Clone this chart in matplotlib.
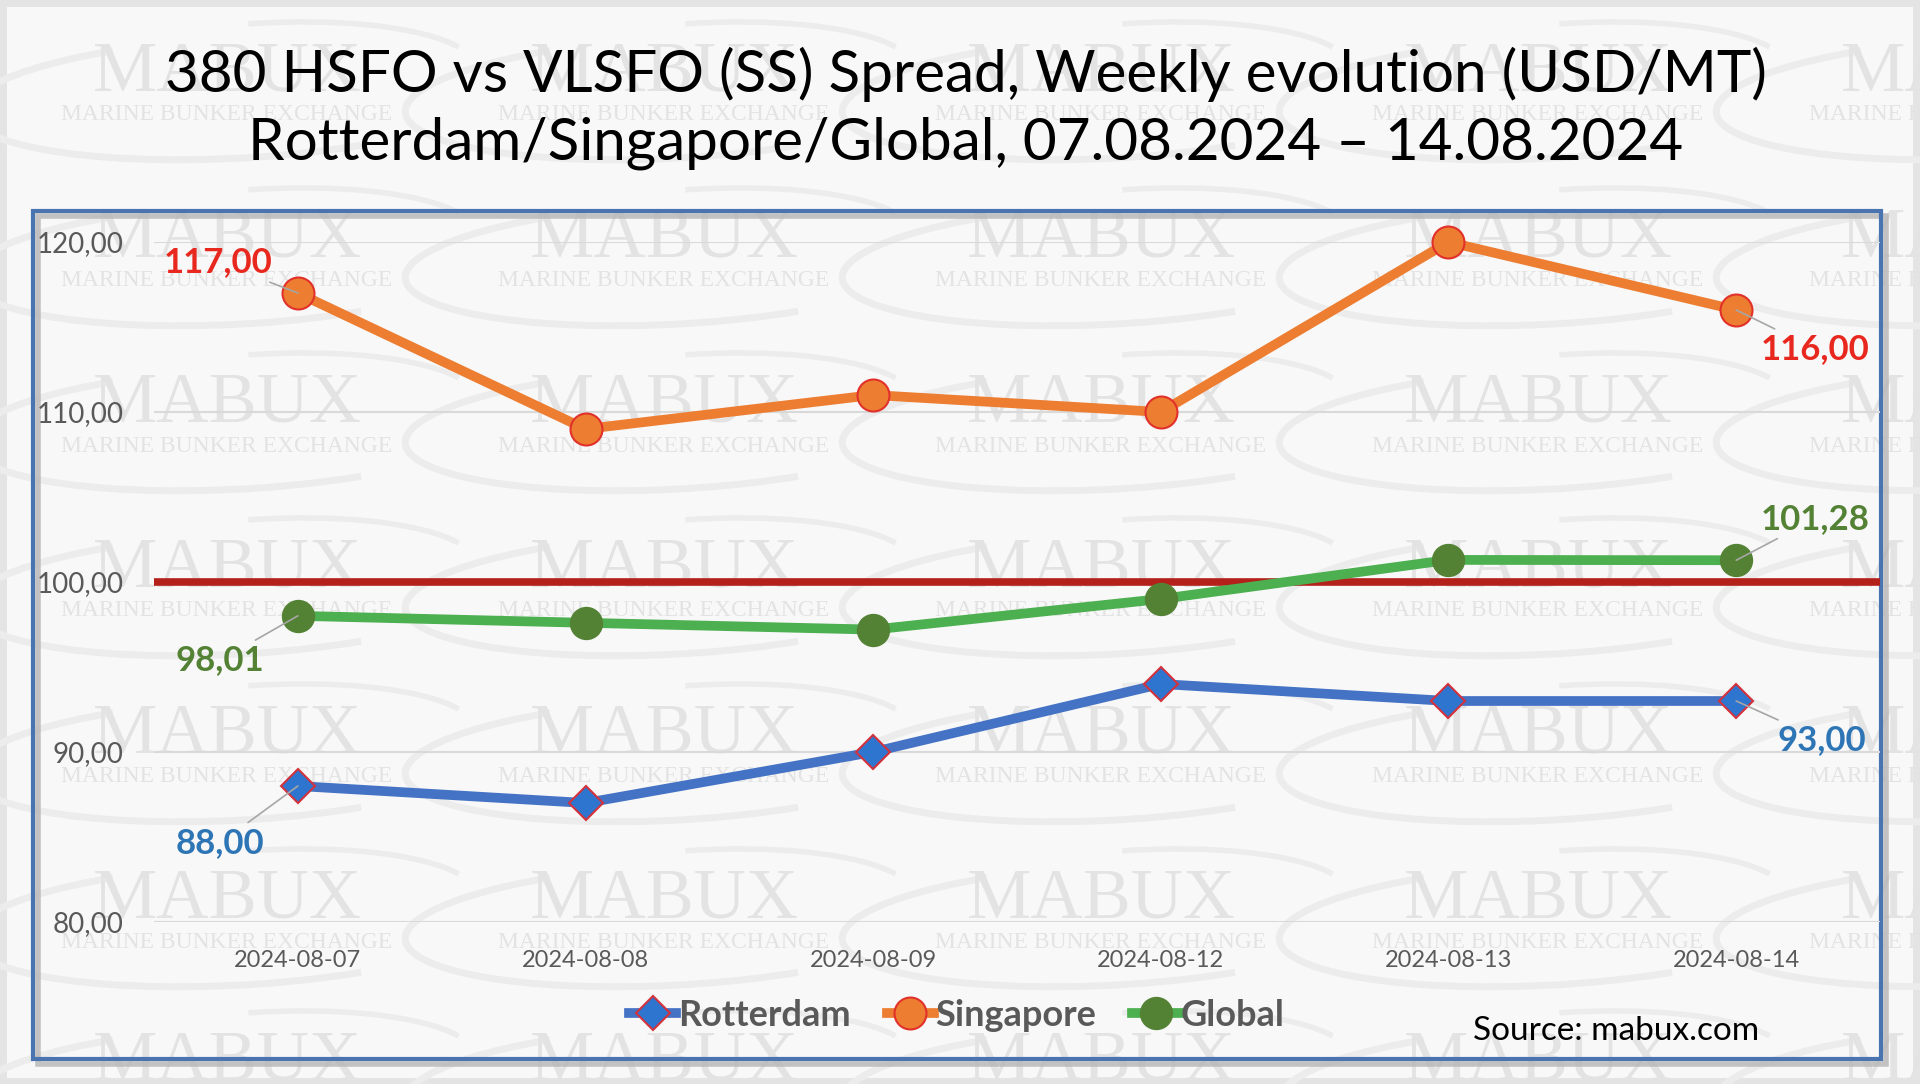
import matplotlib
matplotlib.use("Agg")
import matplotlib.pyplot as plt
from matplotlib.patches import Rectangle, Arc
from matplotlib.lines import Line2D

# ---------------- data ----------------
dates = ["2024-08-07", "2024-08-08", "2024-08-09", "2024-08-12", "2024-08-13", "2024-08-14"]
rotterdam = [88.00, 87.00, 90.00, 94.00, 93.00, 93.00]
singapore = [117.00, 109.00, 111.00, 110.00, 120.00, 116.00]
global_ = [98.01, 97.60, 97.20, 99.00, 101.30, 101.28]
threshold = 100.0
yticks = [80, 90, 100, 110, 120]

title = ("380 HSFO vs VLSFO (SS) Spread, Weekly evolution (USD/MT)\n"
         "Rotterdam/Singapore/Global, 07.08.2024 \u2013 14.08.2024")

FONT = ["Lato", "DejaVu Sans"]
plt.rcParams["font.family"] = FONT

W, H = 1920, 1084
fig = plt.figure(figsize=(W / 100, H / 100), dpi=100)
fig.patch.set_facecolor("#e4e4e4")

def fx(px):
    return px / W

def fy(py):
    return 1 - py / H

# inner background
fig.patches.append(Rectangle((fx(7), fy(1078)), fx(1906), 1071 / H, transform=fig.transFigure,
                             facecolor="#f8f8f8", edgecolor="none", zorder=-10))

# watermark tiles
wm_cols = [227, 664, 1101, 1538, 1975]
wm_rows = [73, 239, 404, 569, 735, 900, 1062]
for cx in wm_cols:
    for cy in wm_rows:
        fig.text(fx(cx), fy(cy), "MABUX", ha="center", va="center", fontsize=52,
                 family="Liberation Serif", color="#e3e3e3", zorder=-8)
        fig.text(fx(cx), fy(cy + 42), "MARINE BUNKER EXCHANGE", ha="center", va="center",
                 fontsize=17, family="Liberation Serif", color="#e3e3e3", zorder=-8)
        fig.patches.append(Arc((fx(cx + 10), fy(cy + 25)), fx(540), 120 / H, angle=6,
                               theta1=140, theta2=320, transform=fig.transFigure,
                               color="#ececec", lw=5, zorder=-9))
        fig.patches.append(Arc((fx(cx + 40), fy(cy + 5)), fx(420), 110 / H, angle=6,
                               theta1=10, theta2=95, transform=fig.transFigure,
                               color="#ececec", lw=4, zorder=-9))

# chart frame with shadow
fig.patches.append(Rectangle((fx(38), fy(1064)), fx(1848), 848 / H, transform=fig.transFigure,
                             facecolor="none", edgecolor="#b5b5b5", lw=4, zorder=-5, alpha=0.8))
fig.patches.append(Rectangle((fx(33), fy(1059)), fx(1848), 848 / H, transform=fig.transFigure,
                             facecolor="none", edgecolor="#4a74b0", lw=3, zorder=-4))

# title
fig.text(0.503, fy(108), title, ha="center", va="center", fontsize=42, color="#000000",
         linespacing=1.34)

# axes
ax = fig.add_axes([fx(154), fy(922), fx(1880 - 154), (922 - 242) / H])
ax.set_facecolor("none")
x = list(range(len(dates)))
ax.set_xlim(-0.5, len(dates) - 0.5)
ax.set_ylim(80, 120)
for s in ax.spines.values():
    s.set_visible(False)
ax.set_yticks(yticks)
ax.set_yticklabels([f"{v:.2f}".replace(".", ",") for v in yticks])
ax.set_xticks(x)
ax.set_xticklabels(dates)
ax.tick_params(axis="y", length=0, pad=22, labelsize=20, labelcolor="#595959")
ax.tick_params(axis="x", length=0, pad=20, labelsize=17, labelcolor="#595959")
ax.grid(axis="y", color="#d9d9d9", lw=1.5)
ax.set_axisbelow(True)

ax.axhline(threshold, color="#b3211a", lw=5.5, zorder=2)

R_STYLE = dict(color="#4472c4", lw=7, marker="D", ms=17, mfc="#2e75d0", mec="#d2323c", mew=1.5)
S_STYLE = dict(color="#ed7d31", lw=7, marker="o", ms=23, mfc="#ed7d31", mec="#e2302a", mew=1.5)
G_STYLE = dict(color="#4caf50", lw=7, marker="o", ms=23, mfc="#548235", mec="#548235", mew=1)

ax.plot(x, rotterdam, zorder=4, clip_on=False, label="Rotterdam", **R_STYLE)
ax.plot(x, singapore, zorder=4, clip_on=False, label="Singapore", **S_STYLE)
ax.plot(x, global_, zorder=4, clip_on=False, label="Global", **G_STYLE)

def lab(i, series, text, color, dx, dy, ha):
    ax.annotate(text, xy=(i, series[i]), xytext=(dx, dy), textcoords="offset points",
                ha=ha, va="center", fontsize=25, fontweight="bold", color=color,
                arrowprops=dict(arrowstyle="-", color="#a6a6a6", lw=1.2,
                                shrinkA=2, shrinkB=0),
                zorder=6)

fmt = lambda v: f"{v:.2f}".replace(".", ",")
lab(0, singapore, fmt(singapore[0]), "#e8281e", -18, 22, "right")
lab(5, singapore, fmt(singapore[5]), "#e8281e", 18, -28, "left")
lab(5, global_, fmt(global_[5]), "#548235", 18, 30, "left")
lab(0, global_, fmt(global_[0]), "#548235", -24, -32, "right")
lab(5, rotterdam, fmt(rotterdam[5]), "#2e75b6", 30, -28, "left")
lab(0, rotterdam, fmt(rotterdam[0]), "#2e75b6", -24, -41, "right")

handles = [Line2D([], [], **R_STYLE), Line2D([], [], **S_STYLE), Line2D([], [], **G_STYLE)]
leg = fig.legend(handles, ["Rotterdam", "Singapore", "Global"], loc="center",
                 bbox_to_anchor=(fx(957), fy(1015)), ncol=3, frameon=False,
                 handlelength=1.3, handletextpad=0.05, columnspacing=1.0,
                 prop={"family": FONT, "weight": "bold", "size": 26})
for t in leg.get_texts():
    t.set_color("#595959")

fig.text(fx(1473), fy(1031), "Source: mabux.com", ha="left", va="center", fontsize=24,
         color="#000000")

fig.savefig("out.png", dpi=100, facecolor=fig.get_facecolor())
